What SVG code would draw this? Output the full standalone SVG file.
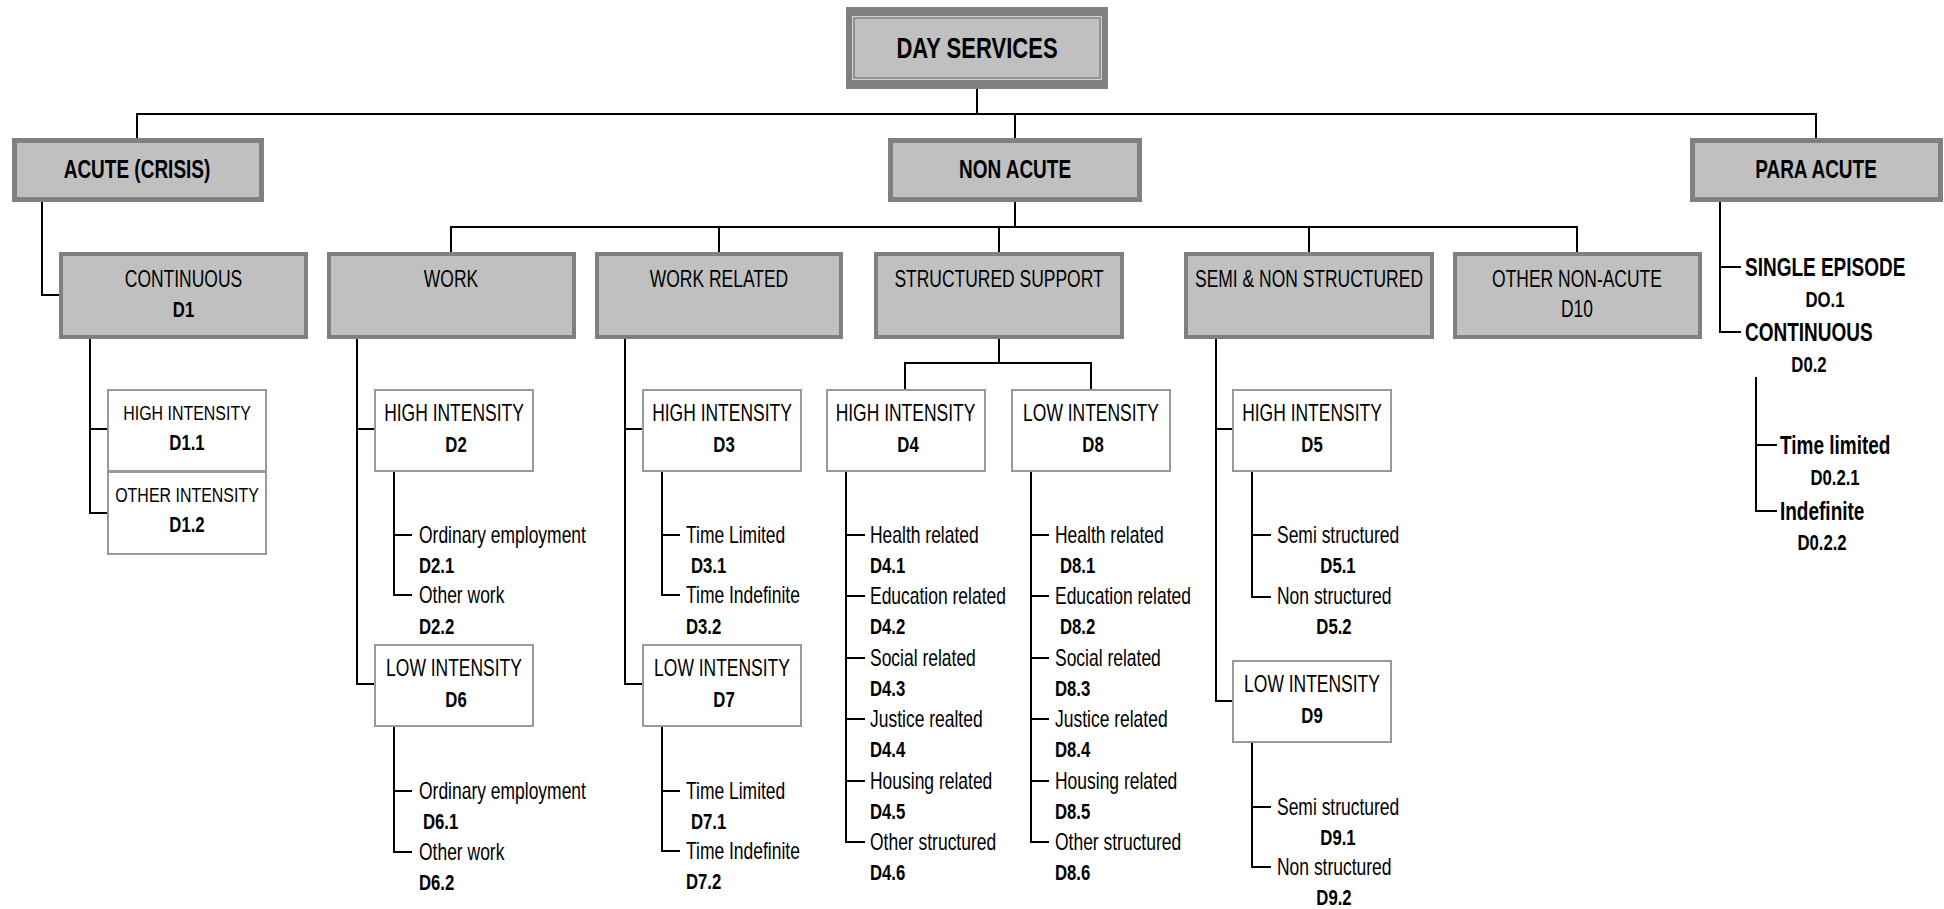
<svg xmlns="http://www.w3.org/2000/svg" width="1944" height="909" viewBox="0 0 1944 909">
  <style>
    .cn { fill: none; stroke: #000; stroke-width: 2; }
    .b2 { fill: #c0c0c0; stroke: #808080; stroke-width: 5; }
    .b3 { fill: #c0c0c0; stroke: #808080; stroke-width: 4; }
    .bw { fill: #fff; stroke: #999; stroke-width: 2; }
    text { font-family: "Liberation Sans", Arial, sans-serif; fill: #000; }
    .hd { font-size: 25px; font-weight: bold; text-anchor: middle; }
    .tt { font-size: 23px; text-anchor: middle; }
    .sm { font-size: 21px; text-anchor: middle; }
    .cd { font-size: 22px; font-weight: bold; text-anchor: middle; }
    .lf { font-size: 23px; }
    .lc { font-size: 22px; font-weight: bold; }
    .pa { font-size: 25px; font-weight: bold; }
  </style>

  <!-- connectors -->
  <g id="connectors">
    <path class="cn" d="M137,138 V114 H1816 V138 M977,89 V114 M1015,114 V138"/>
    <path class="cn" d="M42,202 V295 H59"/>
    <path class="cn" d="M1015,202 V227 M451,252 V227 H1577 V252 M719,227 V252 M999,227 V252 M1309,227 V252"/>
    <path class="cn" d="M90,339 V513 H108 M90,429 H108"/>
    <path class="cn" d="M357,339 V684 H374 M357,429 H374"/>
    <path class="cn" d="M394,471 V595 H412 M394,535 H412"/>
    <path class="cn" d="M394,726 V852 H412 M394,791 H412"/>
    <path class="cn" d="M625,339 V684 H643 M625,429 H643"/>
    <path class="cn" d="M662,471 V595 H680 M662,535 H680"/>
    <path class="cn" d="M662,726 V851 H680 M662,791 H680"/>
    <path class="cn" d="M999,339 V363 M905,389 V363 H1091 V389"/>
    <path class="cn" d="M846,471 V842 H865 M846,535 H865 M846,596 H865 M846,658 H865 M846,719 H865 M846,781 H865"/>
    <path class="cn" d="M1031,471 V842 H1049 M1031,535 H1049 M1031,596 H1049 M1031,658 H1049 M1031,719 H1049 M1031,781 H1049"/>
    <path class="cn" d="M1216,339 V701 H1232 M1216,429 H1232"/>
    <path class="cn" d="M1252,471 V597 H1271 M1252,535 H1271"/>
    <path class="cn" d="M1252,742 V867 H1271 M1252,807 H1271"/>
    <path class="cn" d="M1720,202 V332 H1741 M1720,267 H1741"/>
    <path class="cn" d="M1756,377 V511 H1777 M1756,445 H1777"/>
  </g>

  <!-- root -->
  <g id="day-services">
    <rect x="846" y="7" width="262" height="82" fill="#808080"/>
    <rect x="852" y="16" width="250" height="64" fill="#d0d0d0"/>
    <rect x="854" y="18" width="246" height="60" fill="#c0c0c0" stroke="#808080" stroke-width="1.5"/>
    <text class="hd" style="font-size:29px" transform="translate(977,58) scale(.76,1)">DAY SERVICES</text>
  </g>

  <!-- second level -->
  <g id="acute">
    <rect class="b2" x="14.5" y="140.5" width="247" height="59"/>
    <text class="hd" transform="translate(137,178) scale(.76,1)">ACUTE (CRISIS)</text>
  </g>
  <g id="non-acute">
    <rect class="b2" x="890.5" y="140.5" width="249" height="59"/>
    <text class="hd" transform="translate(1015,178) scale(.76,1)">NON ACUTE</text>
  </g>
  <g id="para-acute">
    <rect class="b2" x="1692.5" y="140.5" width="248" height="59"/>
    <text class="hd" transform="translate(1816,178) scale(.76,1)">PARA ACUTE</text>
  </g>

  <!-- third level -->
  <g id="continuous">
    <rect class="b3" x="61" y="254" width="245" height="83"/>
    <text class="tt" transform="translate(183.5,287) scale(.76,1)">CONTINUOUS</text>
    <text class="cd" transform="translate(183.5,317) scale(.76,1)">D1</text>
  </g>
  <g id="work">
    <rect class="b3" x="329" y="254" width="245" height="83"/>
    <text class="tt" transform="translate(451,287) scale(.76,1)">WORK</text>
  </g>
  <g id="work-related">
    <rect class="b3" x="597" y="254" width="244" height="83"/>
    <text class="tt" transform="translate(719,287) scale(.76,1)">WORK RELATED</text>
  </g>
  <g id="structured-support">
    <rect class="b3" x="876" y="254" width="246" height="83"/>
    <text class="tt" transform="translate(999,287) scale(.76,1)">STRUCTURED SUPPORT</text>
  </g>
  <g id="semi-non-structured">
    <rect class="b3" x="1186" y="254" width="246" height="83"/>
    <text class="tt" transform="translate(1309,287) scale(.76,1)">SEMI &amp; NON STRUCTURED</text>
  </g>
  <g id="other-non-acute">
    <rect class="b3" x="1455" y="254" width="245" height="83"/>
    <text class="tt" transform="translate(1577,287) scale(.76,1)">OTHER NON-ACUTE</text>
    <text class="tt" transform="translate(1577,317) scale(.76,1)">D10</text>
  </g>

  <!-- continuous intensities -->
  <g id="d1-1">
    <rect class="bw" x="108" y="390" width="158" height="81"/>
    <text class="sm" transform="translate(187,420) scale(.76,1)">HIGH INTENSITY</text>
    <text class="cd" transform="translate(187,450) scale(.76,1)">D1.1</text>
  </g>
  <g id="d1-2">
    <rect class="bw" x="108" y="472" width="158" height="82"/>
    <text class="sm" transform="translate(187,502) scale(.76,1)">OTHER INTENSITY</text>
    <text class="cd" transform="translate(187,532) scale(.76,1)">D1.2</text>
  </g>

  <!-- work -->
  <g id="d2">
    <rect class="bw" x="375" y="390" width="158" height="81"/>
    <text class="tt" transform="translate(454,421) scale(.76,1)">HIGH INTENSITY</text>
    <text class="cd" transform="translate(456,452) scale(.76,1)">D2</text>
    <text class="lf" transform="translate(419,543) scale(.76,1)">Ordinary employment</text>
    <text class="lc" transform="translate(419,573) scale(.76,1)">D2.1</text>
    <text class="lf" transform="translate(419,603) scale(.76,1)">Other work</text>
    <text class="lc" transform="translate(419,634) scale(.76,1)">D2.2</text>
  </g>
  <g id="d6">
    <rect class="bw" x="375" y="645" width="158" height="81"/>
    <text class="tt" transform="translate(454,676) scale(.76,1)">LOW INTENSITY</text>
    <text class="cd" transform="translate(456,707) scale(.76,1)">D6</text>
    <text class="lf" transform="translate(419,799) scale(.76,1)">Ordinary employment</text>
    <text class="lc" transform="translate(423,829) scale(.76,1)">D6.1</text>
    <text class="lf" transform="translate(419,860) scale(.76,1)">Other work</text>
    <text class="lc" transform="translate(419,890) scale(.76,1)">D6.2</text>
  </g>

  <!-- work related -->
  <g id="d3">
    <rect class="bw" x="643" y="390" width="158" height="81"/>
    <text class="tt" transform="translate(722,421) scale(.76,1)">HIGH INTENSITY</text>
    <text class="cd" transform="translate(724,452) scale(.76,1)">D3</text>
    <text class="lf" transform="translate(686,543) scale(.76,1)">Time Limited</text>
    <text class="lc" transform="translate(691,573) scale(.76,1)">D3.1</text>
    <text class="lf" transform="translate(686,603) scale(.76,1)">Time Indefinite</text>
    <text class="lc" transform="translate(686,634) scale(.76,1)">D3.2</text>
  </g>
  <g id="d7">
    <rect class="bw" x="643" y="645" width="158" height="81"/>
    <text class="tt" transform="translate(722,676) scale(.76,1)">LOW INTENSITY</text>
    <text class="cd" transform="translate(724,707) scale(.76,1)">D7</text>
    <text class="lf" transform="translate(686,799) scale(.76,1)">Time Limited</text>
    <text class="lc" transform="translate(691,829) scale(.76,1)">D7.1</text>
    <text class="lf" transform="translate(686,859) scale(.76,1)">Time Indefinite</text>
    <text class="lc" transform="translate(686,889) scale(.76,1)">D7.2</text>
  </g>

  <!-- structured support -->
  <g id="d4">
    <rect class="bw" x="827" y="390" width="158" height="81"/>
    <text class="tt" transform="translate(905.5,421) scale(.76,1)">HIGH INTENSITY</text>
    <text class="cd" transform="translate(908,452) scale(.76,1)">D4</text>
    <text class="lf" transform="translate(870,543) scale(.76,1)">Health related</text>
    <text class="lc" transform="translate(870,573) scale(.76,1)">D4.1</text>
    <text class="lf" transform="translate(870,604) scale(.76,1)">Education related</text>
    <text class="lc" transform="translate(870,634) scale(.76,1)">D4.2</text>
    <text class="lf" transform="translate(870,666) scale(.76,1)">Social related</text>
    <text class="lc" transform="translate(870,696) scale(.76,1)">D4.3</text>
    <text class="lf" transform="translate(870,727) scale(.76,1)">Justice realted</text>
    <text class="lc" transform="translate(870,757) scale(.76,1)">D4.4</text>
    <text class="lf" transform="translate(870,789) scale(.76,1)">Housing related</text>
    <text class="lc" transform="translate(870,819) scale(.76,1)">D4.5</text>
    <text class="lf" transform="translate(870,850) scale(.76,1)">Other structured</text>
    <text class="lc" transform="translate(870,880) scale(.76,1)">D4.6</text>
  </g>
  <g id="d8">
    <rect class="bw" x="1012" y="390" width="158" height="81"/>
    <text class="tt" transform="translate(1091,421) scale(.76,1)">LOW INTENSITY</text>
    <text class="cd" transform="translate(1093,452) scale(.76,1)">D8</text>
    <text class="lf" transform="translate(1055,543) scale(.76,1)">Health related</text>
    <text class="lc" transform="translate(1060,573) scale(.76,1)">D8.1</text>
    <text class="lf" transform="translate(1055,604) scale(.76,1)">Education related</text>
    <text class="lc" transform="translate(1060,634) scale(.76,1)">D8.2</text>
    <text class="lf" transform="translate(1055,666) scale(.76,1)">Social related</text>
    <text class="lc" transform="translate(1055,696) scale(.76,1)">D8.3</text>
    <text class="lf" transform="translate(1055,727) scale(.76,1)">Justice related</text>
    <text class="lc" transform="translate(1055,757) scale(.76,1)">D8.4</text>
    <text class="lf" transform="translate(1055,789) scale(.76,1)">Housing related</text>
    <text class="lc" transform="translate(1055,819) scale(.76,1)">D8.5</text>
    <text class="lf" transform="translate(1055,850) scale(.76,1)">Other structured</text>
    <text class="lc" transform="translate(1055,880) scale(.76,1)">D8.6</text>
  </g>

  <!-- semi and non structured -->
  <g id="d5">
    <rect class="bw" x="1233" y="390" width="158" height="81"/>
    <text class="tt" transform="translate(1312,421) scale(.76,1)">HIGH INTENSITY</text>
    <text class="cd" transform="translate(1312,452) scale(.76,1)">D5</text>
    <text class="lf" transform="translate(1277,543) scale(.76,1)">Semi structured</text>
    <text class="cd" transform="translate(1338,573) scale(.76,1)">D5.1</text>
    <text class="lf" transform="translate(1277,604) scale(.76,1)">Non structured</text>
    <text class="cd" transform="translate(1334,634) scale(.76,1)">D5.2</text>
  </g>
  <g id="d9">
    <rect class="bw" x="1233" y="661" width="158" height="81"/>
    <text class="tt" transform="translate(1312,692) scale(.76,1)">LOW INTENSITY</text>
    <text class="cd" transform="translate(1312,723) scale(.76,1)">D9</text>
    <text class="lf" transform="translate(1277,815) scale(.76,1)">Semi structured</text>
    <text class="cd" transform="translate(1338,845) scale(.76,1)">D9.1</text>
    <text class="lf" transform="translate(1277,875) scale(.76,1)">Non structured</text>
    <text class="cd" transform="translate(1334,905) scale(.76,1)">D9.2</text>
  </g>

  <!-- para acute items -->
  <g id="d0-1">
    <text class="pa" transform="translate(1745,276) scale(.76,1)">SINGLE EPISODE</text>
    <text class="cd" transform="translate(1825,307) scale(.76,1)">DO.1</text>
  </g>
  <g id="d0-2">
    <text class="pa" transform="translate(1745,341) scale(.76,1)">CONTINUOUS</text>
    <text class="cd" transform="translate(1809,372) scale(.76,1)">D0.2</text>
  </g>
  <g id="d0-2-1">
    <text class="pa" transform="translate(1780,454) scale(.76,1)">Time limited</text>
    <text class="cd" transform="translate(1835,485) scale(.76,1)">D0.2.1</text>
  </g>
  <g id="d0-2-2">
    <text class="pa" transform="translate(1780,520) scale(.76,1)">Indefinite</text>
    <text class="cd" transform="translate(1822,550) scale(.76,1)">D0.2.2</text>
  </g>
</svg>
